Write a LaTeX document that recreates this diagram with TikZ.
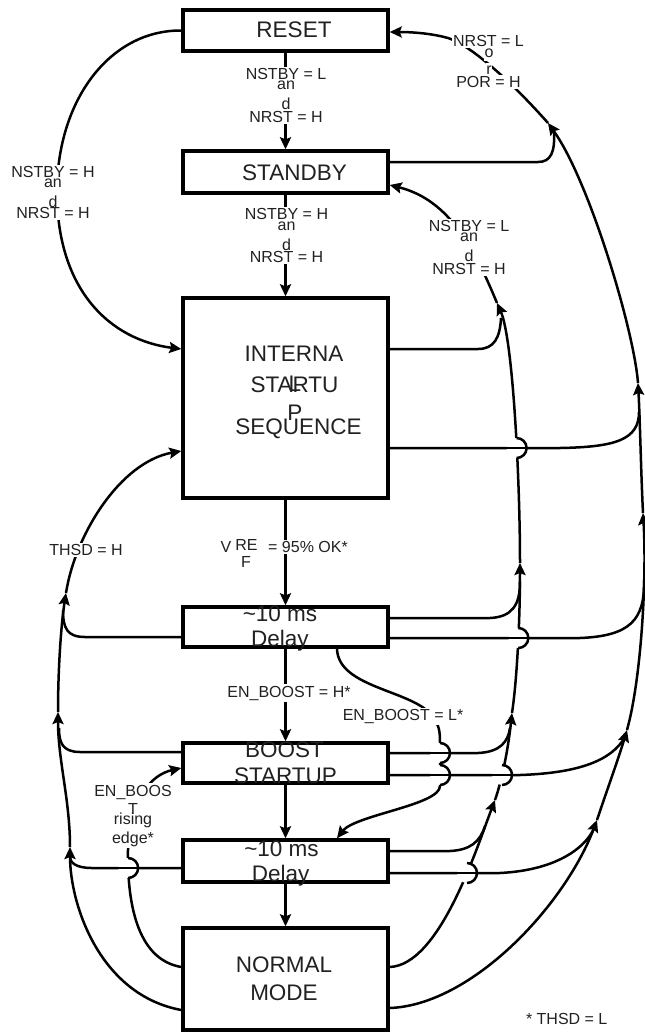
\documentclass[tikz,border=0pt]{standalone}
\usepackage{fontspec}
\setmainfont{Liberation Sans}
\usetikzlibrary{arrows.meta,intersections,calc}
\newcommand\jumpat[1]{%
  \fill[white] (#1) circle[radius=10];
  \draw[conn] ([xshift=-11pt]#1) -- ([xshift=11pt]#1);
  \draw[conn] ([yshift=10pt]#1) arc[start angle=-90,end angle=90,radius=10];
}
\begin{document}
\begin{tikzpicture}[x=1pt,y=-1pt,
  >={Stealth[length=12pt,width=11pt,inset=2pt]},
  box/.style={draw,line width=3.4pt,fill=white,minimum width=205pt,inner sep=0pt},
  btxt/.style={font=\fontsize{22.5}{27}\selectfont,text=black!87,inner sep=0pt},
  lbl/.style={font=\fontsize{16}{19}\selectfont,text=black!87,inner sep=1.5pt,fill=white,align=center},
  conn/.style={line width=2.5pt}
]
\useasboundingbox[fill=white] (0,0) rectangle (645,1034);

% ---------- boxes ----------
\node[box,minimum height=41pt]  (reset)    at (285.5,30.5) {};
\node[box,minimum height=42pt]  (standby)  at (285.5,172) {};
\node[box,minimum height=200pt] (internal) at (285.5,398) {};
\node[box,minimum height=40pt]  (delayA)   at (285.5,627) {};
\node[box,minimum height=40pt]  (boost)    at (285.5,763) {};
\node[box,minimum height=42pt]  (delayB)   at (285.5,861) {};
\node[box,minimum height=102pt] (normal)   at (285.5,979) {};

% ---------- bus coordinates ----------
\coordinate (fa5) at (597,820);
\coordinate (fa4) at (627,730);
\coordinate (fa3) at (643,513);
\coordinate (fa2) at (638,383);
\coordinate (fa1) at (548,123);
\coordinate (fm0) at (554,132);
\coordinate (fm1) at (639,412);
\coordinate (fm2) at (644,580);
\coordinate (fm3) at (625,737);
\coordinate (fm4) at (595,826);

\coordinate (la4) at (495,800);
\coordinate (la3) at (512,713);
\coordinate (la2) at (520,563);
\coordinate (la1) at (497,303);
\coordinate (lm1) at (501,318);
\coordinate (lm2) at (520,582);
\coordinate (lm3) at (510,728);
\coordinate (lm4) at (485,826);

\coordinate (oa3) at (70,847);
\coordinate (oa2) at (58,712);
\coordinate (oa1) at (66,593);
\coordinate (om1) at (63,610);
\coordinate (om2) at (59,728);
\coordinate (om3) at (70,857);

% ---------- main vertical flow ----------
\draw[conn,->] (reset.south) -- (standby.north);
\draw[conn,->] (standby.south) -- (internal.north);
\draw[conn,->] (internal.south) -- (delayA.north);
\draw[conn,->] (delayA.south) -- (boost.north);
\draw[conn,->] (boost.south) -- (delayB.north);
\draw[conn,->] (delayB.south) -- (normal.north);

% RESET -> INTERNAL (left)
\draw[conn,->] (reset.west) .. controls (110,30) and (57,100) .. (57,192)
   .. controls (57,290) and (110,340) .. ([yshift=49pt]internal.west);

% DelayA -> DelayB (EN_BOOST = L*)
\draw[conn,->,name path=LC] ([xshift=51.5pt]delayA.south) .. controls (338,690) and (420,690) .. (435,720)
   .. controls (440,728) and (440,735) .. (440,742) -- (440,786)
   .. controls (440,805) and (355,815) .. ([xshift=51.5pt]delayB.north);

% ---------- far right bus (to RESET) ----------
\draw[conn,->] ([yshift=-29pt]normal.east) .. controls (472,1005) and (565,905) .. (fa5);
\draw[conn,->] (fa5) .. controls (607,790) and (618,760) .. (fa4);
\draw[conn,->] (fa4) .. controls (641,680) and (647,580) .. (fa3);
\draw[conn,->] (fa3) .. controls (641,473) and (640,420) .. (fa2);
\draw[conn,->] (fa2) .. controls (634,330) and (589,180) .. (fa1);
\draw[conn,->] (fa1) .. controls (510,80) and (470,45) .. (448,38)
   .. controls (430,33) and (410,32) .. ([yshift=-1.5pt]reset.east);

\draw[conn] ([yshift=10pt]standby.east) -- (538,162) .. controls (551,162) and (555,152) .. (fm0);
\draw[conn,name path=FiL] ([yshift=-50pt]internal.east) -- (560,448) .. controls (615,447) and (639,440) .. (fm1);
\draw[conn,name path=FdAL] ([yshift=-11pt]delayA.east) -- (580,638) .. controls (630,636) and (645,620) .. (fm2);
\draw[conn,name path=FbL] ([yshift=-12pt]boost.east) -- (520,775) .. controls (580,773) and (612,760) .. (fm3);
\draw[conn,name path=FdBL] ([yshift=-12pt]delayB.east) -- (500,873) .. controls (560,870) and (588,845) .. (fm4);

% ---------- inner right bus (to STANDBY) ----------
\draw[conn,->,name path=LS0] ([yshift=12pt]normal.east) .. controls (440,965) and (477,847) .. (la4);
\draw[conn,->,name path=LS1] (la4) .. controls (502,780) and (508,750) .. (la3);
\draw[conn,->,name path=LS2] (la3) .. controls (517,680) and (520,620) .. (la2);
\draw[conn,->,name path=LS3] (la2) .. controls (520,480) and (513,339) .. (la1);
\draw[conn,->] (la1) .. controls (475,250) and (450,200) .. ([yshift=-13pt]standby.east);

\draw[conn] ([yshift=49pt]internal.east) -- (478,349) .. controls (494,349) and (500,338) .. (lm1);
\draw[conn] ([yshift=9pt]delayA.east) -- (490,618) .. controls (512,617) and (520,605) .. (lm2);
\draw[conn,name path=FbU] ([yshift=10pt]boost.east) -- (478,753) .. controls (500,752) and (508,742) .. (lm3);
\draw[conn] ([yshift=10pt]delayB.east) -- (450,851) .. controls (470,850) and (480,842) .. (lm4);

% ---------- outer left bus (THSD = H to INTERNAL) ----------
\draw[conn,->] ([yshift=-31pt]normal.west) .. controls (100,995) and (70,905) .. (oa3);
\draw[conn,->] (oa3) .. controls (70,800) and (58,760) .. (oa2);
\draw[conn,->] (oa2) .. controls (58,670) and (61,625) .. (oa1);
\draw[conn,->] (oa1) .. controls (75,535) and (120,462) .. ([yshift=-53pt]internal.west);

\draw[conn] ([yshift=-10pt]delayA.west) -- (85,637) .. controls (67,637) and (63,628) .. (om1);
\draw[conn] ([yshift=11pt]boost.west) -- (80,752) .. controls (62,752) and (59,742) .. (om2);
\draw[conn,name path=GdB] ([yshift=-7pt]delayB.west) -- (92,868) .. controls (75,868) and (70,862) .. (om3);

% EN_BOOST rising edge: NORMAL -> BOOST
\draw[conn,->,name path=RR] ([yshift=12pt]normal.west) .. controls (140,960) and (127,910) .. (128,850)
   .. controls (130,800) and (150,775) .. ([yshift=-5pt]boost.west);

% ---------- line jumps ----------
\path[name intersections={of=LS0 and FdBL, by=j1}];
\path[name intersections={of=LS1 and FbL, by=j2}];
\path[name intersections={of=LS2 and FdAL, by=j3}];
\path[name intersections={of=LS3 and FiL, by=j4}];
\path[name intersections={of=LC and FbU, by=j5}];
\path[name intersections={of=LC and FbL, by=j6}];
\path[name intersections={of=RR and GdB, by=j7}];
\jumpat{j1}\jumpat{j2}\jumpat{j3}\jumpat{j4}\jumpat{j5}\jumpat{j6}\jumpat{j7}

% ---------- labels ----------
\node[lbl] (l1) at (286,95.5) {NSTBY = L\\[-9.5pt]an\\[1.5pt]d\\[-6pt]NRST = H};
\node[lbl] (l2) at (286.5,235.5) {NSTBY = H\\[-8.5pt]an\\[1.5pt]d\\[-7pt]NRST = H};
\node[lbl] (l3) at (53,192.5) {NSTBY = H\\[-9.5pt]an\\[1.5pt]d\\[-8pt]NRST = H};
\node[lbl] (l4) at (469,247.5) {NSTBY = L\\[-9.5pt]an\\[1.5pt]d\\[-6pt]NRST = H};

\node[lbl] (l5a) at (488.5,41) {NRST = L};
\node[lbl,inner sep=0.5pt,minimum height=15pt] (l5b) at (489,53) {o};
\node[lbl,inner sep=0.5pt,minimum height=15pt] (l5c) at (489,70.5) {r};
\node[lbl] (l5d) at (488.5,82) {POR = H};

\node[lbl] (lv)  at (226,546.7) {V};
\node[lbl] (lre) at (246.5,545) {RE};
\node[lbl] (lf)  at (246,561.7) {F};
\node[lbl] (lok) at (308,546.7) {= 95\% OK*};
\node[lbl] (lh)  at (289,693) {EN\_BOOST = H*};
\node[lbl] (ll)  at (403,716.3) {EN\_BOOST = L*};
\node[lbl] (lth) at (86,550) {THSD = H};
\node[lbl] (lr)  at (133,815.6) {EN\_BOOS\\[-0.8pt]T\\[-9.25pt]rising\\[0pt]edge*};
\node[lbl,fill=none] (lnote) at (566.7,1018.8) {* THSD = L};

% ---------- box texts ----------
\node[btxt] (tReset)   at (294,30) {RESET};
\node[btxt] (tStandby) at (294.5,172.5) {STANDBY};
\node[btxt] (tInt1) at (294,354) {INTERNA};
\node[btxt] (tInt2) at (294.5,384.5) {STARTU};
\node[btxt] (tInt3) at (295,383.5) {L};
\node[btxt] (tInt4) at (295,412.5) {P};
\node[btxt] (tInt5) at (298.5,428.5) {SEQUENCE};
\node[btxt] (tDA1) at (280,614) {\textasciitilde 10 ms};
\node[btxt] (tDA2) at (280,641) {Delay};
\node[btxt] (tBo1) at (284.5,749.5) {BOOST};
\node[btxt] (tBo2) at (285.5,776) {STARTUP};
\node[btxt] (tDB1) at (281.5,848.7) {\textasciitilde 10 ms};
\node[btxt] (tDB2) at (280.7,875.8) {Delay};
\node[btxt] (tN1) at (284,965) {NORMAL};
\node[btxt] (tN2) at (284,992.5) {MODE};
\end{tikzpicture}
\end{document}
